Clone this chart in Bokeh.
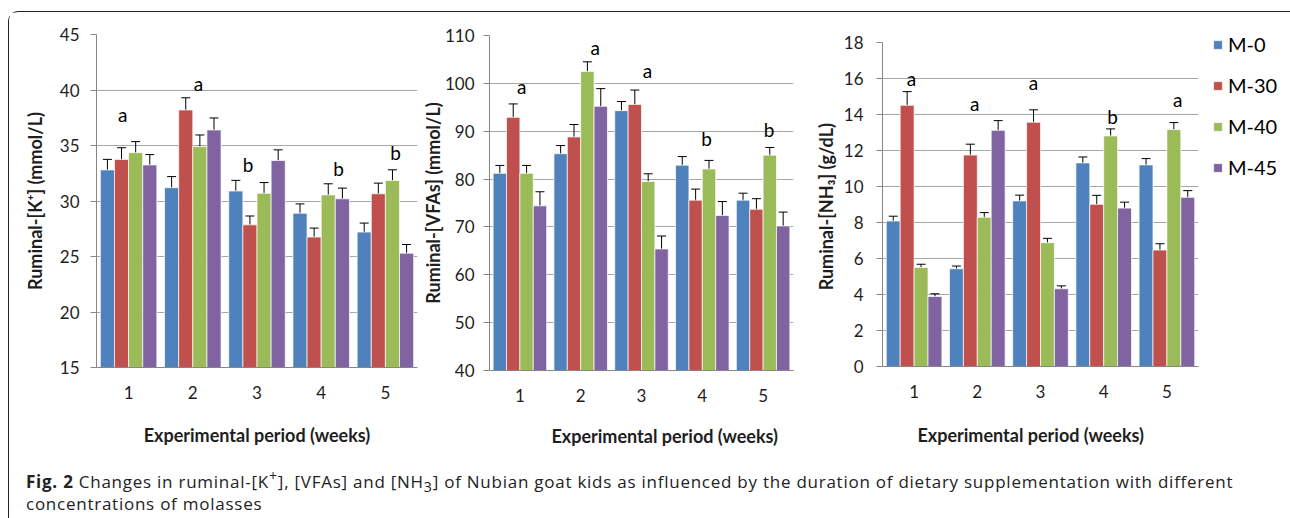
from bokeh.plotting import figure
from bokeh.models import (Range1d, FixedTicker, Whisker, TeeHead, ColumnDataSource,
                          Legend, LegendItem, Title, Div)
from bokeh.layouts import row, column
from bokeh.core.properties import value
from bokeh.embed import file_html
from bokeh.resources import INLINE

# ---------------- data ----------------
weeks = [1, 2, 3, 4, 5]
series_names = ["M-0", "M-30", "M-40", "M-45"]
colors = ["#4F81BD", "#C0504D", "#9BBB59", "#8064A2"]

# Ruminal [K+] (mmol/L)
k_m0 = [32.8, 31.2, 30.9, 28.9, 27.2]
k_m30 = [33.75, 38.2, 27.85, 26.75, 30.65]
k_m40 = [34.35, 34.9, 30.7, 30.55, 31.85]
k_m45 = [33.25, 36.4, 33.65, 30.2, 25.3]
k_e0 = [0.95, 1.0, 0.96, 0.84, 0.81]
k_e30 = [1.05, 1.1, 0.8, 0.81, 0.96]
k_e40 = [1.0, 1.05, 0.96, 1.0, 0.96]
k_e45 = [0.93, 1.08, 0.96, 0.96, 0.78]
k_letters = ["a", "a", "b", "b", "b"]
k_letter_y = [37.8, 40.6, 33.3, 32.9, 34.4]

# Ruminal [VFAs] (mmol/L)
v_m0 = [81.2, 85.3, 94.3, 82.9, 75.6]
v_m30 = [92.9, 88.8, 95.6, 75.6, 73.7]
v_m40 = [81.2, 102.5, 79.5, 82.1, 85.0]
v_m45 = [74.4, 95.2, 65.4, 72.4, 70.2]
v_e0 = [1.65, 1.7, 1.9, 1.8, 1.45]
v_e30 = [2.8, 2.6, 3.0, 2.3, 2.2]
v_e40 = [1.65, 2.0, 1.6, 1.8, 1.6]
v_e45 = [2.95, 3.7, 2.7, 2.9, 2.9]
v_letters = ["a", "a", "a", "b", "b"]
v_letter_y = [99.3, 107.4, 102.6, 88.5, 90.3]

# Ruminal [NH3] (g/dL)
n_m0 = [8.08, 5.43, 9.2, 11.31, 11.2]
n_m30 = [14.51, 11.75, 13.57, 9.01, 6.47]
n_m40 = [5.5, 8.29, 6.88, 12.81, 13.16]
n_m45 = [3.89, 13.12, 4.32, 8.8, 9.4]
n_e0 = [0.27, 0.15, 0.32, 0.33, 0.35]
n_e30 = [0.76, 0.6, 0.69, 0.5, 0.35]
n_e40 = [0.18, 0.26, 0.24, 0.39, 0.39]
n_e45 = [0.15, 0.54, 0.16, 0.33, 0.37]
n_letters = ["a", "a", "a", "b", "a"]
n_letter_y = [16.0, 14.6, 15.8, 13.9, 14.85]

x_title = "Experimental period (weeks)"

# ---------------- styling / layout constants ----------------
BAR_W = 0.22
BAR_OFFS = [-0.33, -0.11, 0.11, 0.33]
FONT = "Lato"
TXT = "#1e1e1e"
AXIS_GRAY = "#868686"
GRID_GRAY = "#a6a6a6"

# letter x shifts relative to week centre (annotation placement)
k_letter_dx = [-0.09, 0.09, -0.14, 0.27, 0.16]
v_letter_dx = [0.03, 0.24, 0.10, 0.07, 0.10]
n_letter_dx = [-0.04, -0.04, -0.11, 0.14, 0.17]


def make_panel(vals, errs, ylo, yhi, ystep, ylabel, letters, letter_y, letter_dx,
               fw, fh, mb_left, mb_right, mb_top, mb_bottom,
               ylab_standoff, tick_standoff, title_standoff=None, xlab_offset=0):
    p = figure(frame_width=fw, frame_height=fh, output_backend="svg", toolbar_location=None,
               title=None, frame_align=False,
               x_range=Range1d(0.5, 5.5), y_range=Range1d(ylo, yhi),
               min_border_left=mb_left, min_border_right=mb_right,
               min_border_top=mb_top, min_border_bottom=mb_bottom,
               background_fill_color="white", border_fill_color="white")
    p.outline_line_color = None
    p.xgrid.grid_line_color = None
    p.ygrid.grid_line_color = GRID_GRAY
    p.ygrid.grid_line_width = 1

    renderers = []
    for i in range(4):
        xs = [w + BAR_OFFS[i] for w in weeks]
        src = ColumnDataSource(dict(x=xs, top=vals[i],
                                    upper=[v + e for v, e in zip(vals[i], errs[i])],
                                    lower=[v - e for v, e in zip(vals[i], errs[i])]))
        r = p.vbar(x="x", top="top", bottom=ylo, width=BAR_W, source=src,
                   fill_color=colors[i], line_color="white", line_alpha=0.7, line_width=1)
        renderers.append(r)
        wk = Whisker(source=src, base="x", upper="upper", lower="lower",
                     line_color="black", line_width=1,
                     upper_head=TeeHead(size=9, line_color="black", line_width=1),
                     lower_head=TeeHead(size=9, line_color="black", line_width=1))
        p.add_layout(wk)

    p.text(x=[w + d for w, d in zip(weeks, letter_dx)], y=letter_y, text=letters,
           text_font=value(FONT), text_font_size="19px", text_color="black",
           text_align="center", text_baseline="middle")

    # y axis
    ya = p.yaxis[0]
    ya.ticker = FixedTicker(ticks=list(range(ylo, yhi + 1, ystep)))
    ya.axis_line_color = AXIS_GRAY
    ya.major_tick_line_color = AXIS_GRAY
    ya.major_tick_out = 6
    ya.major_tick_in = 0
    ya.minor_tick_line_color = None
    ya.major_label_standoff = tick_standoff
    ya.major_label_text_font = FONT
    ya.major_label_text_font_size = "17px"
    ya.major_label_text_color = TXT
    ya.axis_label = ylabel
    ya.axis_label_text_font = FONT
    ya.axis_label_text_font_size = "18px"
    ya.axis_label_text_font_style = "bold"
    ya.axis_label_text_color = TXT
    ya.axis_label_standoff = ylab_standoff

    # x axis
    xa = p.xaxis[0]
    xa.ticker = FixedTicker(ticks=weeks)
    xa.axis_line_color = AXIS_GRAY
    xa.major_tick_line_color = None
    xa.major_tick_out = 0
    xa.major_tick_in = 0
    xa.minor_tick_line_color = None
    xa.major_label_standoff = 18
    xa.major_label_text_font = FONT
    xa.major_label_text_font_size = "17px"
    xa.major_label_text_color = TXT
    if title_standoff is not None:
        t = Title(text=x_title, align="left", offset=xlab_offset, vertical_align="bottom",
                  text_font=FONT, text_font_size="18px", text_font_style="bold",
                  text_color=TXT, standoff=title_standoff)
        p.add_layout(t, "below")
    else:
        xa.axis_label = x_title
        xa.axis_label_text_font = FONT
        xa.axis_label_text_font_size = "18px"
        xa.axis_label_text_font_style = "bold"
        xa.axis_label_text_color = TXT
        xa.axis_label_standoff = 22
    return p, renderers


p1, _ = make_panel([k_m0, k_m30, k_m40, k_m45], [k_e0, k_e30, k_e40, k_e45],
                   15, 45, 5, "Ruminal-[K\u207a] (mmol/L)",
                   k_letters, k_letter_y, k_letter_dx,
                   321, 333, 87, 1, 22, 0, 11, 11)
p2, _ = make_panel([v_m0, v_m30, v_m40, v_m45], [v_e0, v_e30, v_e40, v_e45],
                   40, 110, 10, "Ruminal-[VFAs] (mmol/L)",
                   v_letters, v_letter_y, v_letter_dx,
                   304, 335, 70, 13, 23, 0, -2, 9, 36, 62)
p3, rs = make_panel([n_m0, n_m30, n_m40, n_m45], [n_e0, n_e30, n_e40, n_e45],
                    0, 18, 2, "Ruminal-[NH\u2083]  (g/dL)",
                    n_letters, n_letter_y, n_letter_dx,
                    316, 324, 76, 84, 30, 0, 4, 13, 42, 35)

legend = Legend(items=[LegendItem(label=n, renderers=[r]) for n, r in zip(series_names, rs)],
                location=(14, 187), orientation="vertical",
                glyph_width=11, glyph_height=11, label_height=24, label_standoff=5,
                spacing=17, padding=0, margin=0, border_line_color=None,
                background_fill_alpha=0,
                label_text_font=FONT, label_text_font_size="20px", label_text_color="black")
p3.add_layout(legend, "right")

caption = Div(
    text=('<b>Fig. 2</b> Changes in ruminal-[K<sup style="line-height:0">+</sup>], [VFAs] and '
          '[NH<sub style="line-height:0">3</sub>] of Nubian goat '
          'kids as influenced by the duration of dietary supplementation with different<br>'
          'concentrations of molasses'),
    width=1277, height=46,
    styles={"font-family": "'Open Sans', sans-serif", "font-size": "17px", "line-height": "22px",
            "letter-spacing": "0.75px", "white-space": "nowrap",
            "color": "#222", "padding-left": "12px", "padding-top": "0px",
            "box-sizing": "border-box", "overflow": "visible"})

layout = column(row(p1, p2, p3), caption, margin=(11, 0, 0, 8),
                styles={"border-left": "1.5px solid #222", "border-top": "1.5px solid #222",
                        "border-top-left-radius": "10px", "border-top-right-radius": "10px",
                        "background": "white"})

open("out.html", "w").write(file_html(layout, INLINE))
